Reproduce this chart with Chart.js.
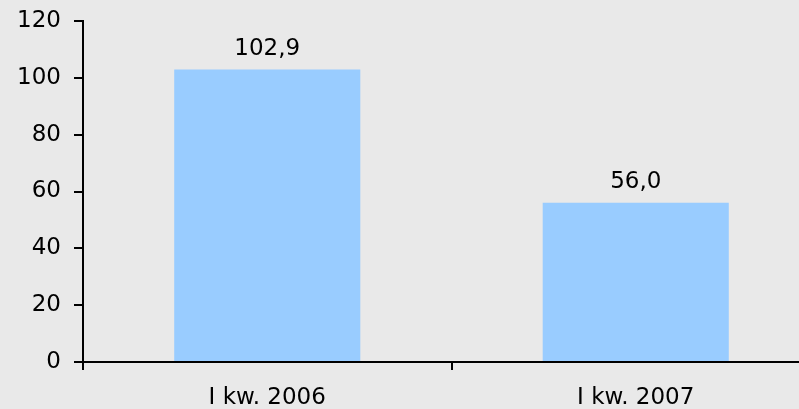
<!DOCTYPE html>
<html>
<head>
<meta charset="utf-8">
<script src="https://cdn.jsdelivr.net/npm/chart.js@4/dist/chart.umd.min.js"></script>
<style>
  html, body { margin: 0; padding: 0; background: #e9e9e9; overflow: hidden; width: 799px; height: 409px; }
  canvas { display: block; }
</style>
</head>
<body>
<canvas id="chart" width="820" height="409"></canvas>
<script>
const categories = ['I kw. 2006', 'I kw. 2007'];
const values = [102.9, 56.0];
const valueLabels = ['102,9', '56,0'];
const yTicks = [0, 20, 40, 60, 80, 100, 120];

const FONT = { family: '"DejaVu Sans", Verdana, sans-serif', size: 23 };

// value labels above bars
const barLabels = {
    id: 'barLabels',
    afterDatasetsDraw(chart) {
        const ctx = chart.ctx;
        const meta = chart.getDatasetMeta(0);
        ctx.save();
        ctx.font = FONT.size + 'px ' + FONT.family;
        ctx.fillStyle = '#000';
        ctx.textAlign = 'center';
        ctx.textBaseline = 'alphabetic';
        meta.data.forEach((bar, i) => {
            ctx.fillText(valueLabels[i], bar.x, bar.y - 15);
        });
        ctx.restore();
    }
};

new Chart(document.getElementById('chart'), {
    type: 'bar',
    data: {
        labels: categories,
        datasets: [{
            data: values,
            backgroundColor: '#99ccff',
            barPercentage: 0.505,
            categoryPercentage: 1
        }]
    },
    options: {
        responsive: false,
        animation: false,
        layout: { padding: { top: 21, right: 0, left: 0, bottom: 0 } },
        plugins: { legend: { display: false }, tooltip: { enabled: false } },
        scales: {
            x: {
                grid: { offset: true, drawOnChartArea: false, drawTicks: true, tickLength: 8, color: '#000', lineWidth: 2 },
                border: { color: '#000', width: 2 },
                ticks: { color: '#000', font: FONT, padding: 14, maxRotation: 0 },
                afterFit(scale) { scale.height = 47; scale.paddingLeft = 0; scale.paddingRight = 0; }
            },
            y: {
                min: 0,
                max: 120,
                afterBuildTicks(scale) { scale.ticks = yTicks.map(v => ({ value: v })); },
                grid: { drawOnChartArea: false, drawTicks: true, tickLength: 9, color: '#000', lineWidth: 2 },
                border: { color: '#000', width: 2 },
                ticks: { color: '#000', font: FONT, padding: 13 },
                afterFit(scale) { scale.width = 83; scale.paddingTop = 0; scale.paddingBottom = 0; }
            }
        }
    },
    plugins: [barLabels]
});
</script>
</body>
</html>
